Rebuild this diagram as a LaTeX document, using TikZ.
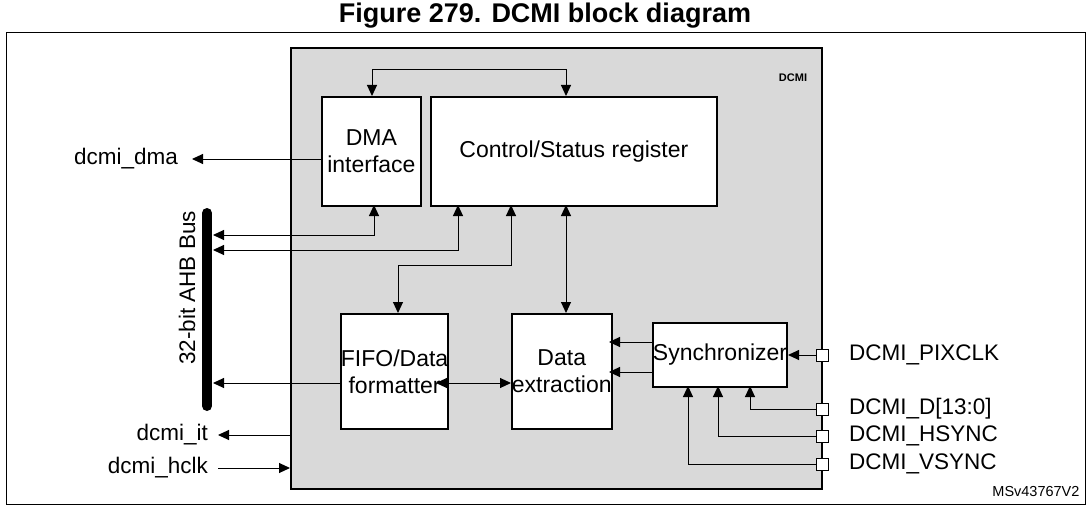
\documentclass[tikz,border=0pt]{standalone}
\usepackage{fontspec}
\setmainfont{Liberation Sans}
\usetikzlibrary{arrows.meta}
\begin{document}
\begin{tikzpicture}[x=1pt,y=-1pt,
  blk/.style={draw,line width=1.8pt,fill=white,align=center,font=\fontsize{23}{27}\selectfont,inner sep=0},
  ar/.style={-{Triangle[length=11pt,width=10pt]},line width=1pt},
  br/.style={{Triangle[length=11pt,width=10pt]}-{Triangle[length=11pt,width=10pt]},line width=1pt},
  pin/.style={draw,line width=1pt,fill=white,minimum size=12pt,inner sep=0},
  lbl/.style={font=\fontsize{22.5}{27}\selectfont,inner sep=0}]
\useasboundingbox (0,0) rectangle (1091,508);
\node[font=\bfseries\fontsize{27}{30}\selectfont] (title) at (545,16) {Figure 279. DCMI block diagram};
\draw[line width=1pt] (6,33) rectangle (1085,504);
\node[draw,line width=1.8pt,fill=black!15,minimum width=531pt,minimum height=441pt,anchor=north west,inner sep=0] (dcmi) at (290,47) {};
\node[font=\bfseries\fontsize{11}{13}\selectfont] (dl) at (793,78) {DCMI};
\node[blk,minimum width=99pt,minimum height=109pt,anchor=north west] (dma) at (321,96) {DMA\\interface};
\node[blk,minimum width=286pt,minimum height=109pt,anchor=north west] (csr) at (430,96) {Control/Status register};
\node[blk,minimum width=96pt,minimum height=115pt,anchor=north west] (fifo) at (340,313) {FIFO/Data\\formatter};
\node[blk,minimum width=98pt,minimum height=115pt,anchor=north west] (dex) at (511,313) {Data\\extraction};
\node[blk,minimum width=126pt,minimum height=64pt,anchor=north west] (sync) at (652,322) {Synchronizer};
% bus
\draw[line width=10pt,line cap=round] (207,213) coordinate (bt) -- (207,406) coordinate (bb);
\node[lbl,rotate=90] (busl) at (187,288) {32-bit AHB Bus};
% top loop
\draw[br] (372,96) -- (372,70) -- (566,70) -- (566,96);
% dcmi_dma
\draw[ar] (321,159) -- (192,159);
\node[lbl,anchor=east] (ddma) at (178,159) {dcmi\_dma};
% bus connections
\draw[br] (374,205) -- (374,235) -- (213,235);
\draw[br] (458,205) -- (458,250) -- (213,250);
\draw[br] (511,205) -- (511,265) -- (398,265) -- (398,313);
\draw[br] (566,205) -- (566,313);
\draw[ar] (340,383) -- (213,383);
\draw[br] (436,383) -- (511,383);
\draw[ar] (652,342) -- (609,342);
\draw[ar] (652,372) -- (609,372);
% pins
\node[pin] (p1) at (822,355) {};
\node[pin] (p2) at (822,409) {};
\node[pin] (p3) at (822,436) {};
\node[pin] (p4) at (822,464) {};
\draw[ar] (p1.west) -- (sync.east|-p1);
\draw[ar] (p2.west) -- (750,409) -- (750,386);
\draw[ar] (p3.west) -- (718,436) -- (718,386);
\draw[ar] (p4.west) -- (688,464) -- (688,386);
\node[lbl,anchor=west] (l1) at (849,355) {DCMI\_PIXCLK};
\node[lbl,anchor=west] (l2) at (849,409) {DCMI\_D[13:0]};
\node[lbl,anchor=west] (l3) at (849,436) {DCMI\_HSYNC};
\node[lbl,anchor=west] (l4) at (849,464) {DCMI\_VSYNC};
% it / hclk
\draw[ar] (290,435) -- (218,435);
\node[lbl,anchor=east] (lit) at (208,435) {dcmi\_it};
\draw[ar] (218,468) -- (290,468);
\node[lbl,anchor=east] (lhc) at (208,468) {dcmi\_hclk};
\node[font=\fontsize{14.5}{16}\selectfont,anchor=east] (ms) at (1083,492) {MSv43767V2};
\end{tikzpicture}
\end{document}
